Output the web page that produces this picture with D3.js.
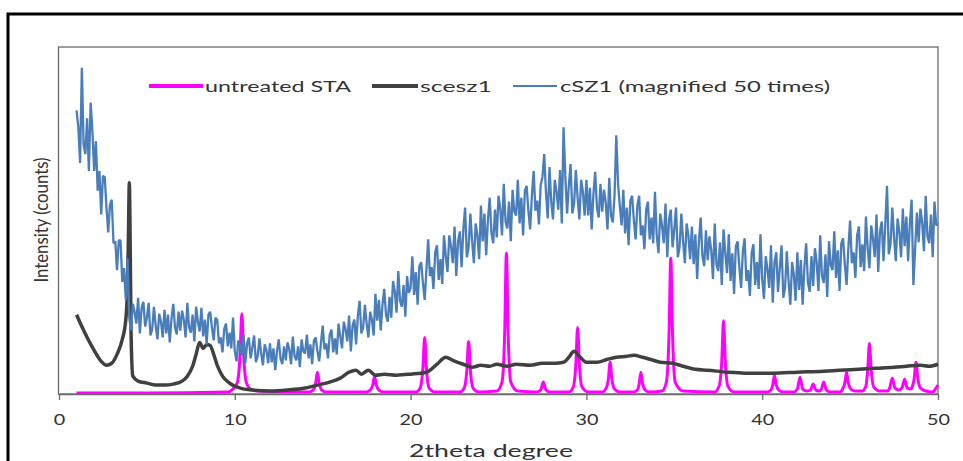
<!DOCTYPE html>
<html>
<head>
<meta charset="utf-8">
<script src="https://cdn.jsdelivr.net/npm/d3@7"></script>
<style>
  html, body { margin: 0; padding: 0; background: #fff; }
  svg { display: block; }
  text { font-family: Lato, "Open Sans", sans-serif; fill: #333; }
</style>
</head>
<body>
<svg id="chart" width="963" height="461"></svg>
<script>
// X-ray diffraction patterns, 2theta 1–50 degrees

const xTicks = [0, 10, 20, 30, 40, 50];
const seriesNames = ["untreated STA", "scesz1", "cSZ1 (magnified 50 times)"];
const seriesColors = ["#ff00ff", "#404040", "#4a7ebb"];

// untreated STA: [2theta, intensity]
const staPoints = [
  [1,1],[5,1],[9.6,2],[9.9,5],[10.15,12],[10.3,40],[10.4,81],[10.5,40],[10.65,12],[10.9,5],[11.3,3],
  [14.2,2],[14.45,4],[14.6,11],[14.7,22],[14.8,11],[14.95,4],[15.2,2],
  [17.5,2],[17.7,4],[17.85,9],[17.95,18],[18.05,9],[18.2,4],[18.45,2],
  [20.3,2],[20.55,6],[20.7,26],[20.8,57],[20.9,26],[21.05,6],[21.4,2],
  [22.8,2],[23.05,6],[23.2,24],[23.3,53],[23.4,24],[23.55,6],[23.9,2],
  [24.9,3],[25.2,12],[25.35,60],[25.45,142],[25.55,60],[25.7,12],[26.1,3],
  [27.2,2],[27.4,4],[27.55,12],[27.7,4],[27.9,2],
  [29.0,2],[29.25,7],[29.4,30],[29.5,67],[29.6,30],[29.75,7],[30.1,2],
  [30.9,2],[31.1,5],[31.25,15],[31.35,32],[31.45,15],[31.6,5],[31.9,2],
  [32.7,2],[32.9,4],[33.0,10],[33.1,22],[33.2,10],[33.35,4],[33.6,2],
  [34.3,3],[34.55,12],[34.7,60],[34.8,137],[34.9,60],[35.05,12],[35.5,3],
  [37.3,2],[37.55,8],[37.7,33],[37.8,74],[37.9,33],[38.05,8],[38.4,2],
  [40.3,2],[40.5,4],[40.6,9],[40.7,19],[40.8,9],[40.95,4],[41.2,2],
  [41.8,2],[42.0,5],[42.15,17],[42.3,5],[42.5,3],
  [42.75,4],[42.9,10],[43.05,4],[43.2,3],
  [43.35,4],[43.5,12],[43.65,4],[43.9,2],
  [44.4,2],[44.6,6],[44.7,11],[44.8,22],[44.9,11],[45.05,5],[45.3,3],
  [45.7,3],[45.9,8],[46.0,24],[46.1,51],[46.2,24],[46.35,7],[46.7,3],
  [47.1,3],[47.25,6],[47.4,16],[47.55,6],[47.75,4],
  [47.95,6],[48.1,15],[48.25,6],[48.45,5],
  [48.55,8],[48.65,16],[48.75,32],[48.85,16],[49.0,6],[49.3,3],
  [49.7,2],[49.85,5],[50,9]
];

// scesz1: [2theta, intensity]
const scesPoints = [
  [1.0,80],[1.3,68],[1.6,57],[2.0,44],[2.4,33],[2.7,29],[3.0,31],[3.3,40],[3.6,55],[3.8,75],
  [3.9,110],[3.95,160],[4.0,213],[4.05,150],[4.1,60],[4.2,18],[4.5,13],[5.0,11],[5.5,9],[6.0,9],
  [6.5,10],[7.0,13],[7.3,18],[7.6,28],[7.8,40],[8.0,52],[8.2,46],[8.4,50],[8.6,49],[8.8,40],
  [9.0,29],[9.3,18],[9.7,11],[10.3,6],[11,4],[12,3],[13,4],[14,6],[14.7,9],[15.4,12],
  [16.0,16],[16.5,22],[16.9,24],[17.2,20],[17.6,24],[18.0,19],[18.5,20],[19.2,19],[20,20],[20.9,22],
  [21.5,30],[22.0,37],[22.4,34],[23.0,30],[23.5,27],[24.0,29],[24.5,28],[24.9,30],[25.5,28],[26.0,30],
  [26.8,29],[27.5,31],[28.2,31],[28.7,32],[29.0,37],[29.3,43],[29.6,38],[30.0,32],[30.6,32],[31.2,35],
  [31.7,37],[32.3,38],[32.7,39],[33.2,37],[33.8,34],[34.2,32],[34.9,31],[35.5,28],[36.2,25],[36.9,24],
  [38,22],[39,21],[40.6,21],[42,22],[43.5,23],[44.4,24],[45.5,25],[46.5,26],[47.5,27],[48.2,28],
  [49,29],[49.5,28],[50,30]
];

// cSZ1 step scan (x 50): first angle, step, intensities
const cszStart = 1.0;
const cszStep = 0.1;
const cszValues = [
  286,269,233,329,251,242,278,225,294,265,
  225,255,205,225,181,220,219,188,163,191,
  196,152,154,125,155,155,113,127,95,137,
  76,64,91,83,71,97,61,87,93,68,
  77,92,59,65,88,69,55,81,73,57,
  85,61,80,52,76,91,67,60,83,64,
  84,75,57,92,67,62,80,53,88,73,
  63,87,58,75,50,80,83,67,54,77,
  75,51,57,42,66,71,48,62,46,77,
  43,33,54,48,39,60,31,51,57,36,
  47,59,32,38,56,41,29,50,44,31,
  51,32,46,24,43,55,36,30,48,34,
  52,45,30,58,38,34,48,27,55,43,
  41,60,36,50,30,54,57,43,33,51,
  69,45,51,36,60,65,42,56,40,71,
  58,46,73,65,53,79,43,69,75,50,
  79,94,61,67,90,71,57,83,75,59,
  101,74,95,64,90,106,80,73,98,77,
  114,104,82,124,94,88,110,78,119,102,
  107,139,100,123,90,129,133,112,95,125,
  156,119,128,106,143,150,115,136,111,160,
  139,123,160,149,132,169,119,154,164,128,
  166,188,138,148,182,154,132,172,160,136,
  190,154,182,140,176,198,162,152,186,158,
  200,187,160,212,174,167,194,154,206,184,
  180,216,172,198,160,205,210,185,166,200,
  225,185,195,171,211,219,242,203,177,229,
  194,176,216,204,186,226,172,269,220,182,
  210,232,182,192,226,198,176,216,204,180,
  216,180,208,166,202,224,188,178,212,184,
  206,193,166,218,180,173,200,261,212,190,
  170,206,162,188,150,195,200,175,156,190,
  200,160,170,146,186,194,156,178,152,204,
  160,142,182,170,152,192,138,176,186,148,
  166,188,138,148,182,154,132,172,160,136,
  169,131,161,116,154,178,139,129,165,135,
  159,145,116,172,131,124,153,110,166,142,
  122,161,114,142,101,149,154,128,107,144,
  157,114,125,99,142,151,110,133,106,161,
  116,96,139,126,107,150,92,133,143,103,
  127,150,97,107,144,114,90,133,120,94,
  143,105,135,90,128,152,113,103,139,109,
  147,133,104,160,119,112,141,98,154,130,
  125,164,117,145,104,152,157,131,110,147,
  175,132,143,117,160,169,128,151,124,179,
  147,127,170,157,138,181,123,164,174,134,
  171,210,141,151,188,158,134,177,164,138,
  187,149,179,134,172,196,110,147,183,153,
  187,173,144,200,159,152,181,138,194,170,
  172
];

const W = 963, H = 461;
const margin = { left: 59, right: 25, top: 47, bottom: 67 };

const svg = d3.select("#chart");

const x = d3.scaleLinear().domain([0, 50]).range([margin.left, W - margin.right]);
const y = d3.scaleLinear().domain([0, 350]).range([H - margin.bottom, margin.top]);

// outer frame
svg.append("rect")
  .attr("x", 8).attr("y", 14)
  .attr("width", 1000).attr("height", 500)
  .attr("fill", "none").attr("stroke", "#000").attr("stroke-width", 3);

// plot area border
svg.append("rect")
  .attr("x", x(0) - 0.5).attr("y", y(350))
  .attr("width", x(50) - x(0) + 0.5).attr("height", y(0) - y(350))
  .attr("fill", "none").attr("stroke", "#6a6a6a").attr("stroke-width", 1.3);

const plot = svg.append("g");
plot.append("clipPath").attr("id", "clip")
  .append("rect")
  .attr("x", x(0)).attr("y", y(350) - 30)
  .attr("width", x(50) - x(0) + 2).attr("height", y(0) - y(350) + 30);

const cszPoints = cszValues.map((v, i) => [cszStart + i * cszStep, v]);

const layers = plot.append("g").attr("clip-path", "url(#clip)");

layers.append("path")
  .datum(staPoints)
  .attr("fill", "none")
  .attr("stroke", seriesColors[0])
  .attr("stroke-width", 3)
  .attr("stroke-linejoin", "round")
  .attr("d", d3.line().x(d => x(d[0])).y(d => y(d[1])).curve(d3.curveMonotoneX));

layers.append("path")
  .datum(scesPoints)
  .attr("fill", "none")
  .attr("stroke", seriesColors[1])
  .attr("stroke-width", 3.5)
  .attr("stroke-linejoin", "round")
  .attr("d", d3.line().x(d => x(d[0])).y(d => y(d[1])).curve(d3.curveMonotoneX));

layers.append("path")
  .datum(cszPoints)
  .attr("fill", "none")
  .attr("stroke", seriesColors[2])
  .attr("stroke-width", 2.3)
  .attr("stroke-linejoin", "bevel")
  .attr("d", d3.line().x(d => x(d[0])).y(d => y(d[1])));

// x axis
const xAxis = svg.append("g")
  .attr("transform", `translate(0,${y(0)})`)
  .call(d3.axisBottom(x).tickValues(xTicks).tickSize(6).tickSizeOuter(0).tickPadding(14));
xAxis.select(".domain").attr("stroke", "#6a6a6a").attr("stroke-width", 1.3);
xAxis.selectAll(".tick line").attr("stroke", "#6a6a6a").attr("stroke-width", 1.3);
xAxis.selectAll(".tick text")
  .attr("fill", "#333")
  .style("font-family", "Lato, sans-serif")
  .style("font-size", "15px")
  .attr("textLength", d => String(d).length * 11.5)
  .attr("lengthAdjust", "spacingAndGlyphs");

// axis titles
svg.append("text")
  .attr("x", 491).attr("y", 457)
  .attr("text-anchor", "middle")
  .style("font-size", "17px")
  .attr("textLength", 164)
  .attr("lengthAdjust", "spacingAndGlyphs")
  .text("2theta degree");

svg.append("text")
  .attr("transform", "translate(48,220) scale(1.15,1) rotate(-90)")
  .attr("text-anchor", "middle")
  .style("font-size", "17px")
  .attr("textLength", 125)
  .attr("lengthAdjust", "spacingAndGlyphs")
  .text("Intensity (counts)");

// legend
const legendItems = [
  { x1: 149, x2: 203, tx: 205, tw: 146, w: 4 },
  { x1: 372, x2: 418, tx: 420, tw: 72, w: 4 },
  { x1: 513, x2: 557, tx: 560, tw: 270, w: 2 }
];
const legendY = 86;
const legend = svg.append("g");
legendItems.forEach((it, i) => {
  legend.append("line")
    .attr("x1", it.x1).attr("x2", it.x2)
    .attr("y1", legendY).attr("y2", legendY)
    .attr("stroke", seriesColors[i]).attr("stroke-width", it.w);
  legend.append("text")
    .attr("x", it.tx).attr("y", legendY + 6)
    .style("font-size", "16px")
    .attr("textLength", it.tw)
    .attr("lengthAdjust", "spacingAndGlyphs")
    .text(seriesNames[i]);
});
</script>
</body>
</html>
